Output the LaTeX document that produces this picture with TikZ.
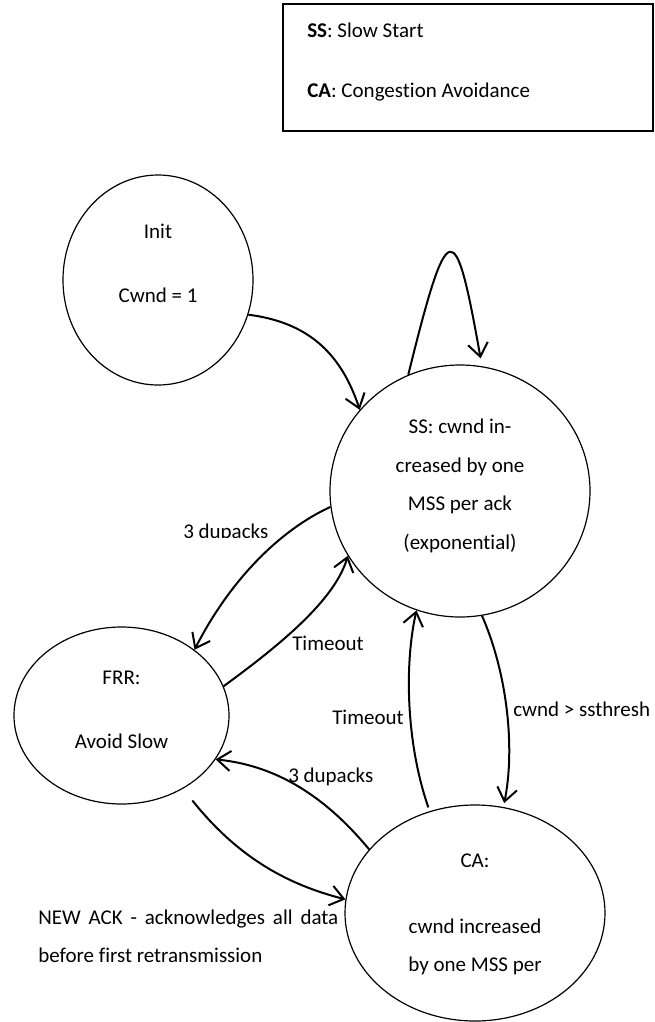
\documentclass[tikz,border=0pt]{standalone}
\usepackage{fontspec}
\setmainfont{Carlito}[Ligatures={NoCommon}]
\usetikzlibrary{arrows.meta,shapes.geometric}
\newlength\pxu \setlength\pxu{0.75pt}
\begin{document}
\begin{tikzpicture}[x=0.75pt,y=-0.75pt,
  state/.style={ellipse,draw,line width=0.9pt,inner sep=0pt},
  lbl/.style={font=\fontsize{15.75}{19}\selectfont,inner sep=0pt},
  trans/.style={line width=1.5pt,-{Straight Barb[length=10pt,width=15pt]}},
]
\useasboundingbox (0,0) rectangle (654,1022);
% legend
\node[draw,line width=1pt,minimum width=370\pxu,minimum height=127\pxu,inner sep=0pt] (legend) at (468,67.5) {};
\node[lbl,anchor=base west] (legss) at (307,37) {\textbf{SS}: Slow Start};
\node[lbl,anchor=base west] (legca) at (307,97.5) {\textbf{CA}: Congestion Avoidance};
% states
\node[state,minimum width=190\pxu,minimum height=210\pxu] (init) at (158,280) {};
\node[lbl,anchor=base] (initA) at (158,238) {Init};
\node[lbl,anchor=base] (initB) at (158,302) {Cwnd = 1};
\node[state,minimum width=260\pxu,minimum height=252\pxu] (ss) at (460,491) {};
\node[lbl,anchor=base] (ssA) at (460,433) {SS: cwnd in-};
\node[lbl,anchor=base] (ssB) at (460,472) {creased by one};
\node[lbl,anchor=base] (ssC) at (460,510) {MSS per ack};
\node[lbl,anchor=base] (ssD) at (460,549) {(exponential)};
\node[state,minimum width=215\pxu,minimum height=177\pxu] (frr) at (121.5,715.5) {};
\node[lbl,anchor=base] (frrA) at (121.5,684) {FRR:};
\node[lbl,anchor=base] (frrB) at (121.5,748.5) {Avoid Slow};
\node[state,minimum width=260\pxu,minimum height=216\pxu] (ca) at (475,913) {};
\node[lbl,anchor=base] (caA) at (475,867) {CA:};
\node[lbl,anchor=base] (caB) at (475,933) {cwnd increased};
\node[lbl,anchor=base] (caC) at (475,971.5) {by one MSS per};
% transitions
\draw[trans] (init.-21) .. controls (305,322) and (340,350) .. (ss.141);
\draw[trans,shorten >=8\pxu] (ss.114.7) .. controls (448,214) and (455,214) .. (ss.80);
\draw[trans] (ss.187.5) .. controls (280,530) and (230,580) .. (frr.42.2);
\draw[trans] (frr.16.6) .. controls (280,645) and (335,600) .. (ss.210.2);
\draw[trans,shorten <=4\pxu] (ca.114.6) .. controls (405,740) and (405,660) .. (ss.250.9);
\draw[trans,shorten >=4\pxu] (ss.280.3) .. controls (508,675) and (515,750) .. (ca.75.7);
\draw[trans] (ca.149.5) .. controls (320,790) and (270,765) .. (frr.-25.2);
\draw[trans,shorten <=15\pxu] (frr.-50.2) .. controls (240,860) and (290,885) .. (ca.174);
% labels
\begin{scope}
\clip (150,500) rectangle (300,537.5);
\node[lbl,anchor=base west] (dupA) at (183,538.5) {3 dupacks};
\end{scope}
\node[lbl,anchor=base west] (toA) at (292,650.5) {Timeout};
\node[lbl,anchor=base west] (toB) at (332,724) {Timeout};
\node[lbl,anchor=base west] (dupB) at (288,782.5) {3 dupacks};
\node[lbl,anchor=base west] (thr) at (513,716.5) {cwnd > ssthresh};
\node[lbl,anchor=base west] (ackA) at (38,924) {\makebox[225pt][s]{NEW ACK - acknowledges all data}};
\node[lbl,anchor=base west] (ackB) at (38,962.5) {before first retransmission};
\end{tikzpicture}
\end{document}
